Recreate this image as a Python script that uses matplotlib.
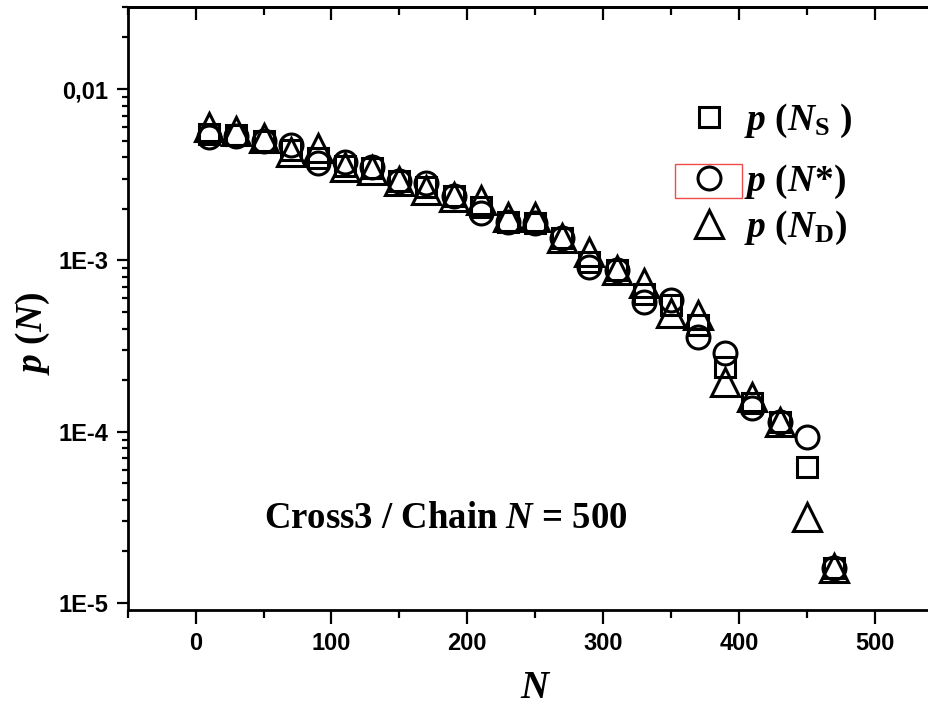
import matplotlib
matplotlib.use("Agg")
import math
import matplotlib.pyplot as plt
from matplotlib.ticker import MultipleLocator, LogLocator, FuncFormatter, NullFormatter
from matplotlib.patches import Rectangle
from matplotlib.lines import Line2D
from matplotlib.font_manager import FontProperties

plt.rcParams['mathtext.fontset'] = 'custom'
plt.rcParams['mathtext.rm'] = 'Liberation Serif:bold'
plt.rcParams['mathtext.it'] = 'Liberation Serif:italic:bold'
plt.rcParams['mathtext.bf'] = 'Liberation Serif:bold'

N = [10, 30, 50, 70, 90, 110, 130, 150, 170, 190, 210, 230, 250, 270,
     290, 310, 330, 350, 370, 390, 410, 430, 450, 470]
p_NS = [5.5e-3, 5.4e-3, 5.0e-3, 4.4e-3, 3.95e-3, 3.55e-3, 3.45e-3, 2.9e-3,
        2.68e-3, 2.37e-3, 2.05e-3, 1.67e-3, 1.65e-3, 1.35e-3, 9.8e-4, 8.8e-4,
        6.4e-4, 5.5e-4, 4.2e-4, 2.4e-4, 1.47e-4, 1.14e-4, 6.2e-5, 1.59e-5]
p_Nstar = [5.25e-3, 5.3e-3, 5.0e-3, 4.7e-3, 3.7e-3, 3.75e-3, 3.5e-3, 2.9e-3,
           2.83e-3, 2.37e-3, 1.89e-3, 1.67e-3, 1.65e-3, 1.35e-3, 9.1e-4, 8.8e-4,
           5.7e-4, 5.86e-4, 3.56e-4, 2.87e-4, 1.37e-4, 1.14e-4, 9.3e-5, 1.59e-5]
p_ND = [6.0e-3, 5.7e-3, 5.18e-3, 4.3e-3, 4.5e-3, 3.5e-3, 3.37e-3, 2.9e-3,
        2.57e-3, 2.34e-3, 2.25e-3, 1.79e-3, 1.79e-3, 1.35e-3, 1.12e-3, 8.8e-4,
        7.4e-4, 4.9e-4, 4.8e-4, 1.94e-4, 1.59e-4, 1.14e-4, 3.16e-5, 1.59e-5]

labels = [r'$p$ ($N_{\mathrm{S}}$ )', r'$p$ ($N$*)', r'$p$ ($N_{\mathrm{D}}$)']
ytick_text = {-2: '0,01', -3: '1E-3', -4: '1E-4', -5: '1E-5'}
annotation = r'Cross3 / Chain $N$ = 500'

W, H = 929, 708
fig = plt.figure(figsize=(W / 100, H / 100), dpi=100)
left_px, right_px, top_px, bot_px = 127.7, 929, 7.3, 610
ax = fig.add_axes([left_px / W, 1 - bot_px / H, (right_px - left_px) / W, (bot_px - top_px) / H])

mk = dict(linestyle='none', markerfacecolor='none', markeredgecolor='black', markeredgewidth=2.2)
series = [(p_NS, 's', 14.5), (p_Nstar, 'o', 16.5), (p_ND, '^', 19.5)]
for vals, m, ms in series:
    ax.plot(N, vals, marker=m, markersize=ms, **mk, clip_on=False, zorder=3)

ax.set_yscale('log')
ax.set_xlim(-50, 540)
ax.set_ylim(9.1e-6, 0.030)

for s in ['left', 'bottom', 'top']:
    ax.spines[s].set_linewidth(2.0)
ax.spines['right'].set_visible(False)

ax.xaxis.set_major_locator(MultipleLocator(100))
ax.xaxis.set_minor_locator(MultipleLocator(50))
ax.yaxis.set_major_locator(LogLocator(base=10, numticks=10))
ax.yaxis.set_minor_locator(LogLocator(base=10, subs=[2, 3, 4, 5, 6, 7, 8, 9], numticks=20))
ax.yaxis.set_minor_formatter(NullFormatter())


def yfmt(v, pos):
    e = int(round(math.log10(v)))
    return ytick_text.get(e, '')


ax.yaxis.set_major_formatter(FuncFormatter(yfmt))

tick_fp = FontProperties(family='Liberation Sans', weight='bold', size=17)
ax.tick_params(axis='x', which='major', direction='out', length=10, width=1.6, pad=6, top=False)
ax.tick_params(axis='x', which='minor', direction='out', length=6, width=1.6, top=False)
ax.tick_params(axis='y', which='major', direction='out', length=8, width=1.6, pad=6, right=False)
ax.tick_params(axis='y', which='minor', direction='out', length=4.5, width=1.6, right=False)
for lab in ax.get_xticklabels() + ax.get_yticklabels():
    lab.set_fontproperties(tick_fp)

sec = ax.secondary_xaxis('top')
sec.xaxis.set_major_locator(MultipleLocator(100))
sec.xaxis.set_minor_locator(MultipleLocator(50))
sec.tick_params(axis='x', which='major', direction='in', length=9.5, width=1.6, labeltop=False)
sec.tick_params(axis='x', which='minor', direction='in', length=5.5, width=1.6, labeltop=False)
sec.spines['top'].set_linewidth(2.0)

serif = dict(family='Liberation Serif', weight='bold')
fig.text(33 / W, 1 - 333 / H, r'$p$ ($N$)', rotation=90, ha='center', va='center', size=27, **serif)
fig.text(536 / W, 1 - 689 / H, r'$N$', ha='center', va='center', size=28, **serif)
fig.text(446 / W, 1 - 519 / H, annotation, ha='center', va='center', size=26.5, **serif)

# legend entries, one per series, positioned individually
rows_y = [121, 182, 228]
fs = 27
for (vals, m, ms), lab, yy in zip(series, labels, rows_y):
    h = Line2D([], [], marker=m, markersize=ms, **mk)
    fig.legend([h], [lab], loc='center left', bbox_to_anchor=(690 / W, 1 - yy / H),
               frameon=False, borderpad=0, borderaxespad=0, handlelength=1.0,
               handletextpad=0.45, prop=dict(family='Liberation Serif', weight='bold', size=fs))

fig.add_artist(Rectangle((675 / W, 1 - 198 / H), 67 / W, 34 / H, transform=fig.transFigure,
                         fill=False, edgecolor='#f04a4a', linewidth=1.0))

fig.savefig('out.png', dpi=100)
